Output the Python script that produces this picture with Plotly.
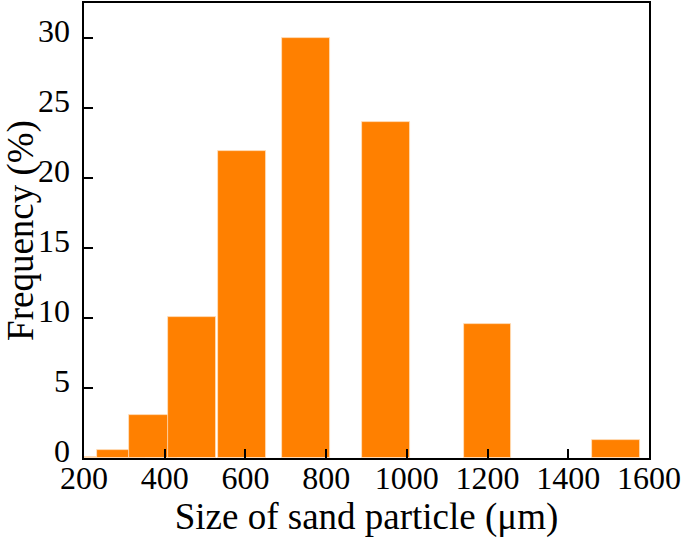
import plotly.graph_objects as go

# bar centres (um), heights (%) and a common bar width
sizes = [255, 292, 371, 468, 592, 750, 948, 1200, 1518]
freq = [0.1, 0.57, 3.05, 10.1, 21.9, 30.0, 24.0, 9.55, 1.27]
bar_width = 118

x_ticks = [200, 400, 600, 800, 1000, 1200, 1400, 1600]
y_ticks = [0, 5, 10, 15, 20, 25, 30]

serif = "Liberation Serif, Times New Roman, serif"
y_top = 32.5
label_lift = 0.5  # y tick labels sit a little above their ticks in the original

fig = go.Figure()
fig.add_trace(go.Bar(
    x=sizes,
    y=freq,
    width=[bar_width] * len(sizes),
    marker=dict(color="#ff8000", line=dict(color="#ffe2c4", width=0.8)),
))
# empty trace so the label-only axis gets drawn
fig.add_trace(go.Scatter(x=[None], y=[None], yaxis="y2", hoverinfo="skip"))

tick_font = dict(family=serif, size=32, color="black")
title_font = dict(family=serif, size=37, color="black")

fig.update_xaxes(
    range=[200, 1600], tickvals=x_ticks,
    showline=True, linecolor="black", linewidth=1.5, mirror=True,
    ticks="inside", ticklen=9, tickwidth=1.5, tickcolor="black",
    showgrid=False, zeroline=False, automargin=False,
    tickfont=tick_font, ticklabelstandoff=-9,
    title=dict(text="Size of sand particle (\u03bcm)", standoff=0, font=title_font),
)

fig.update_layout(
    yaxis=dict(
        range=[0, y_top], tickvals=y_ticks, showticklabels=False,
        showline=True, linecolor="black", linewidth=1.5, mirror=True,
        ticks="inside", ticklen=9, tickwidth=1.5, tickcolor="black",
        showgrid=False, zeroline=False, automargin=False,
    ),
    yaxis2=dict(
        overlaying="y", side="left",
        range=[-label_lift, y_top - label_lift], tickvals=y_ticks,
        showline=False, ticks="", showgrid=False, zeroline=False,
        automargin=False, tickfont=tick_font, ticklabelstandoff=13,
        title=dict(text="Frequency (%)", standoff=6, font=title_font),
    ),
    width=685, height=538,
    margin=dict(l=84, r=36, t=3, b=80),
    plot_bgcolor="white", paper_bgcolor="white",
    showlegend=False, bargap=0,
)

# page body has a default 8px margin; drop it so the figure sits at 0,0
fig.write_html("out.html", config={"displayModeBar": False},
               post_script="document.body.style.margin='0';")
